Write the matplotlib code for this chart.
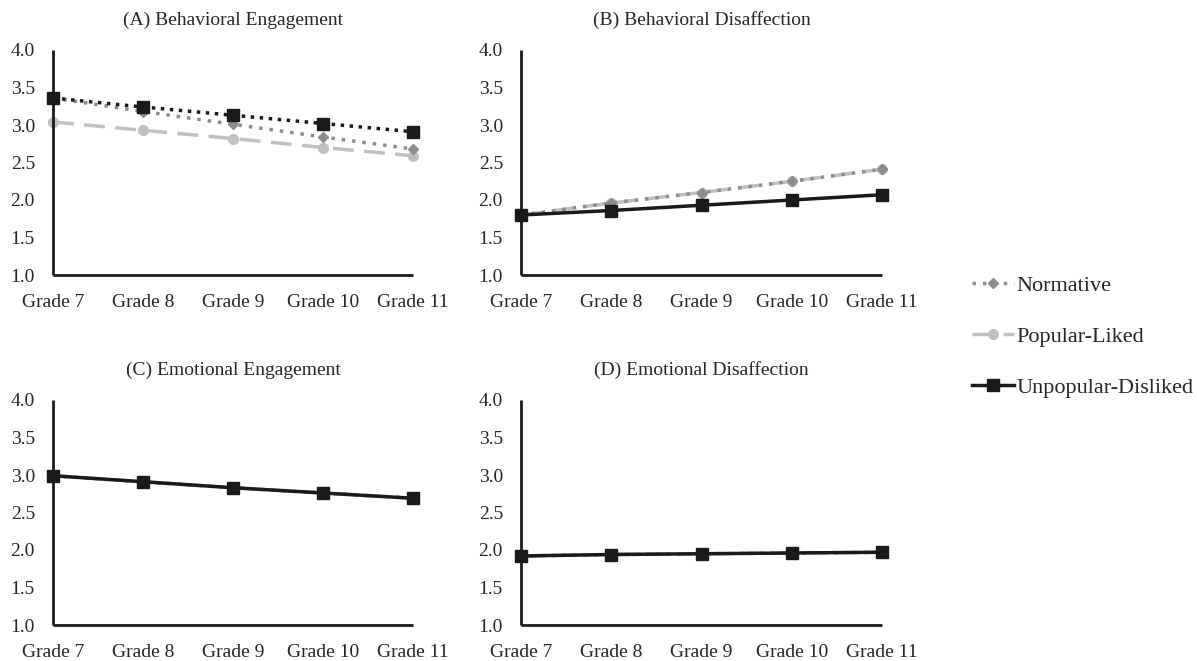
import matplotlib
matplotlib.use("Agg")
import matplotlib.pyplot as plt
from matplotlib.lines import Line2D

plt.rcParams['font.family'] = ['Liberation Serif', 'DejaVu Serif']

grades = ["Grade 7", "Grade 8", "Grade 9", "Grade 10", "Grade 11"]
yticks = [1.0, 1.5, 2.0, 2.5, 3.0, 3.5, 4.0]
titles = ["(A) Behavioral Engagement", "(B) Behavioral Disaffection",
          "(C) Emotional Engagement", "(D) Emotional Disaffection"]
series_names = ["Normative", "Popular-Liked", "Unpopular-Disliked"]

# Panel A
a_normative = [3.36, 3.18, 3.01, 2.84, 2.68]
a_popular = [3.04, 2.93, 2.82, 2.70, 2.59]
a_unpopular = [3.36, 3.24, 3.13, 3.02, 2.91]
# Panel B
b_normative = [1.80, 1.96, 2.10, 2.25, 2.41]
b_popular = [1.80, 1.96, 2.10, 2.25, 2.41]
b_unpopular = [1.80, 1.86, 1.93, 2.00, 2.07]
# Panel C
c_normative = [2.99, 2.91, 2.83, 2.76, 2.69]
c_popular = [2.99, 2.91, 2.83, 2.76, 2.69]
c_unpopular = [2.99, 2.91, 2.83, 2.76, 2.69]
# Panel D
d_normative = [1.92, 1.94, 1.95, 1.96, 1.97]
d_popular = [1.92, 1.94, 1.95, 1.96, 1.97]
d_unpopular = [1.92, 1.94, 1.95, 1.96, 1.97]

panels = [
    (a_normative, a_popular, a_unpopular, ':'),
    (b_normative, b_popular, b_unpopular, '-'),
    (c_normative, c_popular, c_unpopular, '-'),
    (d_normative, d_popular, d_unpopular, '-'),
]

W, H = 1197, 661
fig = plt.figure(figsize=(W / 100, H / 100), dpi=100)

boxes = [(53, 50, 413, 275), (521, 50, 882, 275),
         (53, 400, 413, 625), (521, 400, 882, 625)]

NORM_C = '#8c8c8c'
POP_C = '#c0c0c0'
UNP_C = '#1a1a1a'
TXT_C = '#262626'

for (l, t, r, b), title, (nv, pv, uv, ustyle) in zip(boxes, titles, panels):
    ax = fig.add_axes([l / W, 1 - b / H, (r - l) / W, (b - t) / H])
    x = list(range(len(grades)))
    ax.plot(x, pv, linestyle=(0, (6, 3)), color=POP_C, lw=2.5,
            marker='o', ms=7, zorder=2, clip_on=False)
    ax.plot(x, nv, linestyle=(0, (1, 2)), color=NORM_C, lw=2.5,
            marker='D', ms=5, zorder=3, clip_on=False)
    ax.plot(x, uv, linestyle=((0, (1, 1.6)) if ustyle == ':' else '-'),
            color=UNP_C, lw=2.5, marker='s', ms=8, zorder=4, clip_on=False)
    ax.set_xlim(0, 4)
    ax.set_ylim(1.0, 4.0)
    ax.set_yticks(yticks)
    ax.set_yticklabels([f"{v:.1f}" for v in yticks])
    ax.set_xticks(x)
    ax.set_xticklabels(grades)
    ax.tick_params(length=0, labelsize=14, colors=TXT_C)
    ax.tick_params(axis='x', pad=14)
    ax.tick_params(axis='y', pad=13)
    for s in ['top', 'right']:
        ax.spines[s].set_visible(False)
    for s in ['left', 'bottom']:
        ax.spines[s].set_linewidth(2)
        ax.spines[s].set_color('#1a1a1a')
        ax.spines[s].set_capstyle('butt')
    ax.set_title(title, fontsize=14, color=TXT_C, pad=18)

handles = [
    Line2D([], [], linestyle=(0, (1, 2)), color=NORM_C, lw=2.5, marker='D', ms=5),
    Line2D([], [], linestyle=(0, (6, 3)), color=POP_C, lw=2.5, marker='o', ms=7),
    Line2D([], [], linestyle='-', color=UNP_C, lw=2.5, marker='s', ms=8),
]
fig.legend(handles, series_names, loc='upper left',
           bbox_to_anchor=(972 / W, 1 - 275 / H), frameon=False,
           fontsize=16, handlelength=1.9, handletextpad=0.1,
           labelspacing=1.38, borderpad=0, borderaxespad=0,
           labelcolor=TXT_C)

fig.savefig("out.png", dpi=100, facecolor='white')
